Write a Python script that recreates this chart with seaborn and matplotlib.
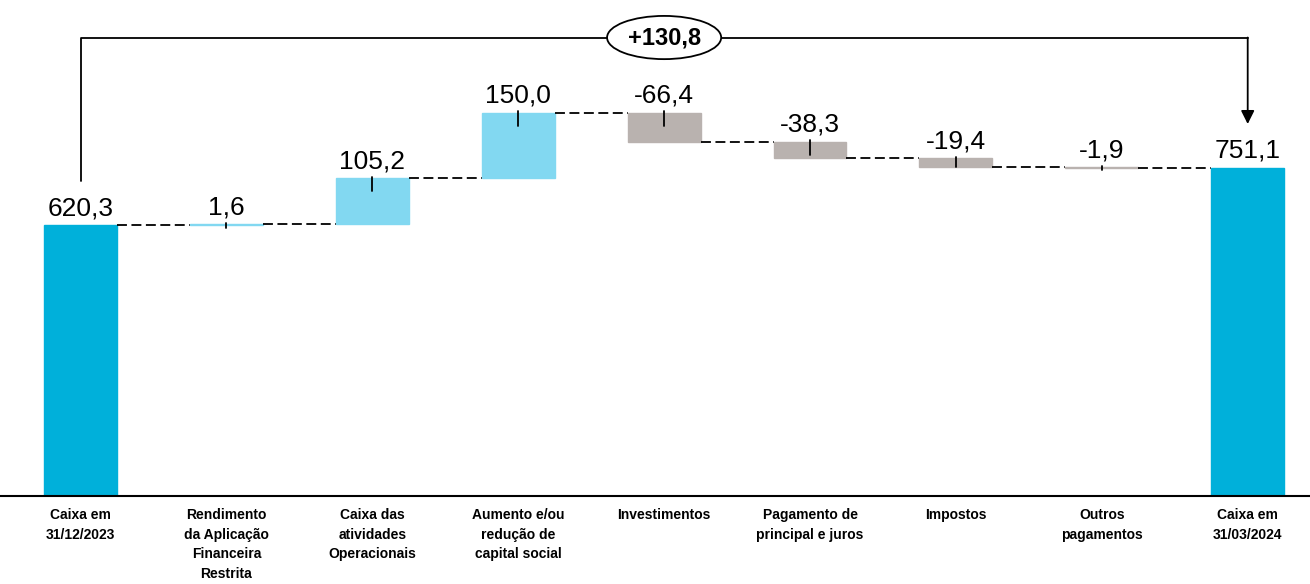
import numpy as np
import pandas as pd
import seaborn as sns
import matplotlib.pyplot as plt

# waterfall data: opening cash, movements, closing cash
categories = ["Caixa em\n31/12/2023", "Rendimento\nda Aplicação\nFinanceira\nRestrita",
              "Caixa das\natividades\nOperacionais", "Aumento e/ou\nredução de\ncapital social",
              "Investimentos", "Pagamento de\nprincipal e juros", "Impostos",
              "Outros\npagamentos", "Caixa em\n31/03/2024"]
values = [620.3, 1.6, 105.2, 150.0, -66.4, -38.3, -19.4, -1.9, 751.1]
value_labels = ["620,3", "1,6", "105,2", "150,0", "-66,4", "-38,3", "-19,4", "-1,9", "751,1"]
kinds = ["total", "up", "up", "up", "down", "down", "down", "down", "total"]
variation_label = "+130,8"

sns.set_style("white")
plt.rcParams['font.family'] = ['Liberation Sans', 'DejaVu Sans']
plt.rcParams['text.color'] = 'black'
plt.rcParams['xtick.color'] = 'black'

# floating bar geometry
level = 0.0
bottoms, heights, levels = [], [], []
for v, k in zip(values, kinds):
    if k == "total":
        bottoms.append(0.0)
        heights.append(v)
        level = v
    else:
        bottoms.append(min(level, level + v))
        heights.append(abs(v))
        level += v
    levels.append(level)
tops = [b + h for b, h in zip(bottoms, heights)]

df = pd.DataFrame({"cat": categories, "height": heights, "kind": kinds})
palette = {"total": "#00B0DA", "up": "#82D8F1", "down": "#B9B2AF"}

fig = plt.figure(figsize=(13.1, 5.84), dpi=100)
ax = fig.add_axes([0, 0.151, 1, 0.849])

sns.barplot(data=df, x="cat", y="height", hue="kind", palette=palette, dodge=False,
            legend=False, width=0.5, saturation=1, errorbar=None, ax=ax,
            linewidth=1)
for p in ax.patches:
    i = int(round(p.get_x() + p.get_width() / 2))
    p.set_y(bottoms[i])
    p.set_edgecolor(p.get_facecolor())

n = len(values)
# dashed connectors
for i in range(n - 1):
    ax.plot([i + 0.25, i + 0.75], [levels[i], levels[i]], color="black",
            lw=1.3, ls=(0, (5.5, 2.5)), zorder=1)

# small tick marks on the movement bars
for i, k in enumerate(kinds):
    if k != "total":
        ln = min(max(heights[i], 8), 30)
        ax.plot([i, i], [tops[i] + 3, tops[i] - ln], color="black", lw=1.3, zorder=4)

# value labels
for i, lab in enumerate(value_labels):
    ax.annotate(lab, (i, tops[i]), xytext=(0, 7), textcoords="offset points",
                ha="center", va="baseline", fontsize=19, color="black")

# total variation bracket
top_y = max(tops) + 172
ax.plot([0, 0, n - 1], [values[0] + 100, top_y, top_y], color="black", lw=1.3, zorder=2)
ax.annotate("", xy=(n - 1, values[-1] + 100), xytext=(n - 1, top_y),
            arrowprops=dict(arrowstyle="-|>", color="black", lw=1.3,
                            mutation_scale=20, shrinkA=0, shrinkB=0))
ax.text((n - 1) / 2, top_y, variation_label, ha="center", va="center",
        fontsize=17, fontweight="bold", zorder=5, color="black",
        bbox=dict(boxstyle="ellipse,pad=0.16", fc="white", ec="black", lw=1.3))

ax.set_xlim(-0.552, 8.427)
ax.set_ylim(0, 1135)
ax.set_xticks(range(n))
ax.set_xticklabels(categories, fontweight="bold", fontsize=10, linespacing=1.5,
                   va="top", color="black")
ax.tick_params(axis="x", length=0, pad=9)
ax.set_yticks([])
ax.set_xlabel("")
ax.set_ylabel("")
for s in ["top", "left", "right"]:
    ax.spines[s].set_visible(False)
ax.spines["bottom"].set_linewidth(1.5)
ax.spines["bottom"].set_color("black")

fig.savefig("out.png", dpi=100)
